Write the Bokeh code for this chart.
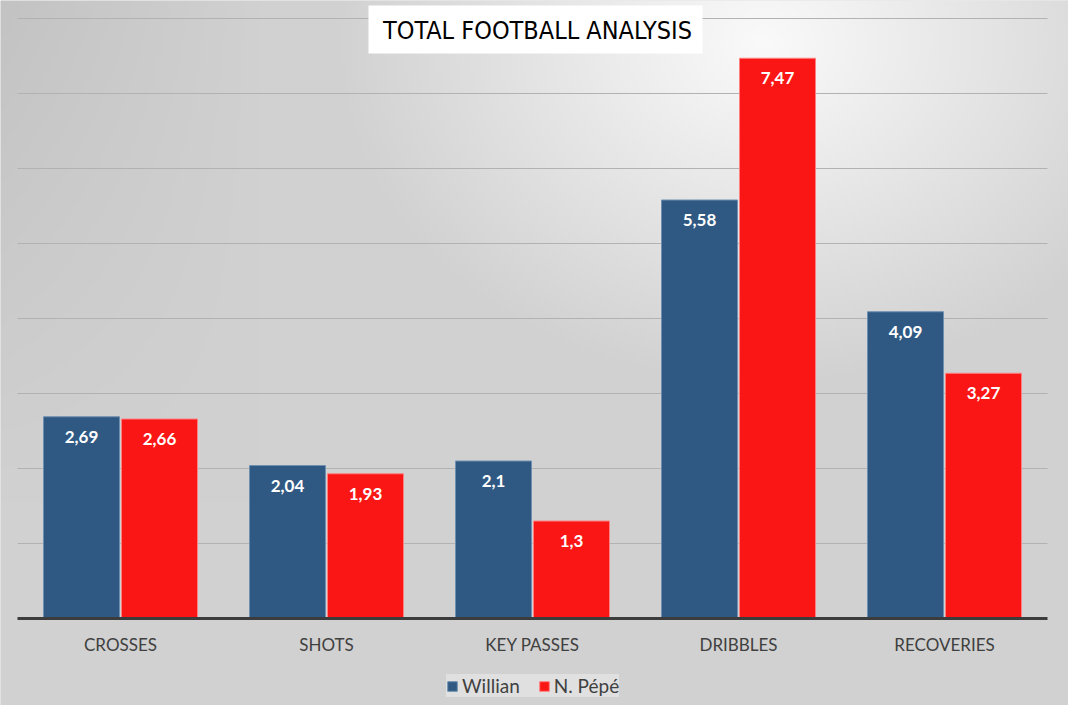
import numpy as np
from bokeh.plotting import figure
from bokeh.models import ColumnDataSource, Range1d, Legend, LegendItem
from bokeh.transform import dodge
from bokeh.core.properties import value
from bokeh.embed import file_html
from bokeh.resources import INLINE

# ---- data ----
categories = ["CROSSES", "SHOTS", "KEY PASSES", "DRIBBLES", "RECOVERIES"]
willian = [2.69, 2.04, 2.1, 5.58, 4.09]
pepe = [2.66, 1.93, 1.3, 7.47, 3.27]
series_names = ["Willian", "N. Pépé"]
grid_values = [1, 2, 3, 4, 5, 6, 7, 8]
title_text = "TOTAL FOOTBALL ANALYSIS"

# ---- layout constants (pixels) ----
W, H = 1068, 705
CAT_PX = 206.0      # px per category
LEFT_PX = 17.0      # left edge of category area
BASE_PX = 618.0     # baseline (y=0) from top
UNIT_PX = 75.0      # px per unit

def dx(px):
    return (px - LEFT_PX) / CAT_PX

def dy(py):
    return (BASE_PX - py) / UNIT_PX

n = len(categories)
xs = [i + 0.5 for i in range(n)]
fmt = lambda v: str(v).replace(".", ",")

src = ColumnDataSource(dict(
    x=xs, cat=categories,
    w=willian, p=pepe,
    wl=[fmt(v) for v in willian], pl=[fmt(v) for v in pepe],
    wy=[v - 20 / UNIT_PX for v in willian], py=[v - 20 / UNIT_PX for v in pepe],
    cy=[dy(644)] * n,
))

p = figure(width=W, height=H, min_border=0, output_backend="svg",
           toolbar_location=None, x_axis_type=None, y_axis_type=None,
           x_range=Range1d(dx(0), dx(W)), y_range=Range1d(dy(H), dy(0)))
p.outline_line_color = None
p.xgrid.visible = False
p.ygrid.visible = False
p.background_fill_color = "#d4d4d4"
p.border_fill_color = "#d4d4d4"

# ---- gradient background ----
gh, gw = 176, 267
yy, xx = np.mgrid[0:gh, 0:gw]
px_x = xx * (W / gw)
px_y = (gh - 1 - yy) * (H / gh)  # row 0 = bottom
d = np.sqrt(((px_x - 760) * 1.0) ** 2 + ((px_y - 40) * 1.25) ** 2)
v = 250 - 0.095 * d
v = np.maximum(v, 209)
v = v - 14 * np.clip(1 - px_x / 260, 0, 1) * np.clip(1 - px_y / 500, 0, 1)
v = np.clip(v, 0, 255).astype(np.uint32)
img = ((255 << 24) | (v << 16) | (v << 8) | v).astype(np.uint32)
p.image_rgba(image=[img], x=dx(0), y=dy(H), dw=dx(W) - dx(0), dh=dy(0) - dy(H))

# ---- grid lines ----
p.segment(x0=[0] * len(grid_values), x1=[n] * len(grid_values),
          y0=grid_values, y1=grid_values, line_color="#b2b2b2", line_width=1)

# ---- bars ----
bw = 76 / CAT_PX
off = 39 / CAT_PX
r1 = p.vbar(x=dodge("x", -off, range=p.x_range), top="w", width=bw, source=src,
            fill_color="#2f5983", line_color="#6f8fb0", line_width=1)
r2 = p.vbar(x=dodge("x", off, range=p.x_range), top="p", width=bw, source=src,
            fill_color="#fb1616", line_color="#ff8080", line_width=1)

# ---- baseline ----
p.segment(x0=[0], x1=[n], y0=[0], y1=[0], line_color="#3c3c3c", line_width=3)

# ---- value labels ----
for col_x, col_y, col_t in ((-off, "wy", "wl"), (off, "py", "pl")):
    p.text(x=dodge("x", col_x, range=p.x_range), y=col_y, text=col_t, source=src,
           text_color="white", text_font=value("Lato"), text_font_style="bold",
           text_font_size="17px", text_align="center", text_baseline="middle")

# ---- category labels ----
p.text(x="x", y="cy", text="cat", source=src, text_color="#404040",
       text_font=value("Lato"), text_font_size="17px",
       text_align="center", text_baseline="middle")

# ---- title box ----
p.quad(left=[dx(368)], right=[dx(702)], top=[dy(5)], bottom=[dy(53)],
       fill_color="white", line_color=None)
p.text(x=[dx(537)], y=[dy(30)], text=[title_text], text_color="black",
       text_font=value("DejaVu Sans Condensed"), text_font_size="25px",
       text_align="center", text_baseline="middle")

# ---- legend ----
legend = Legend(items=[LegendItem(label=series_names[0], renderers=[r1]),
                       LegendItem(label=series_names[1], renderers=[r2])],
                orientation="horizontal", location=(446, 8),
                glyph_width=12, glyph_height=12, padding=8, spacing=18,
                label_standoff=4, label_height=18, margin=0,
                label_text_font="Lato", label_text_font_size="19px",
                label_text_color="#404040",
                background_fill_color="#e0e0e0", background_fill_alpha=1.0,
                border_line_color=None)
p.add_layout(legend, "center")

open("out.html", "w").write(file_html(p, INLINE))
